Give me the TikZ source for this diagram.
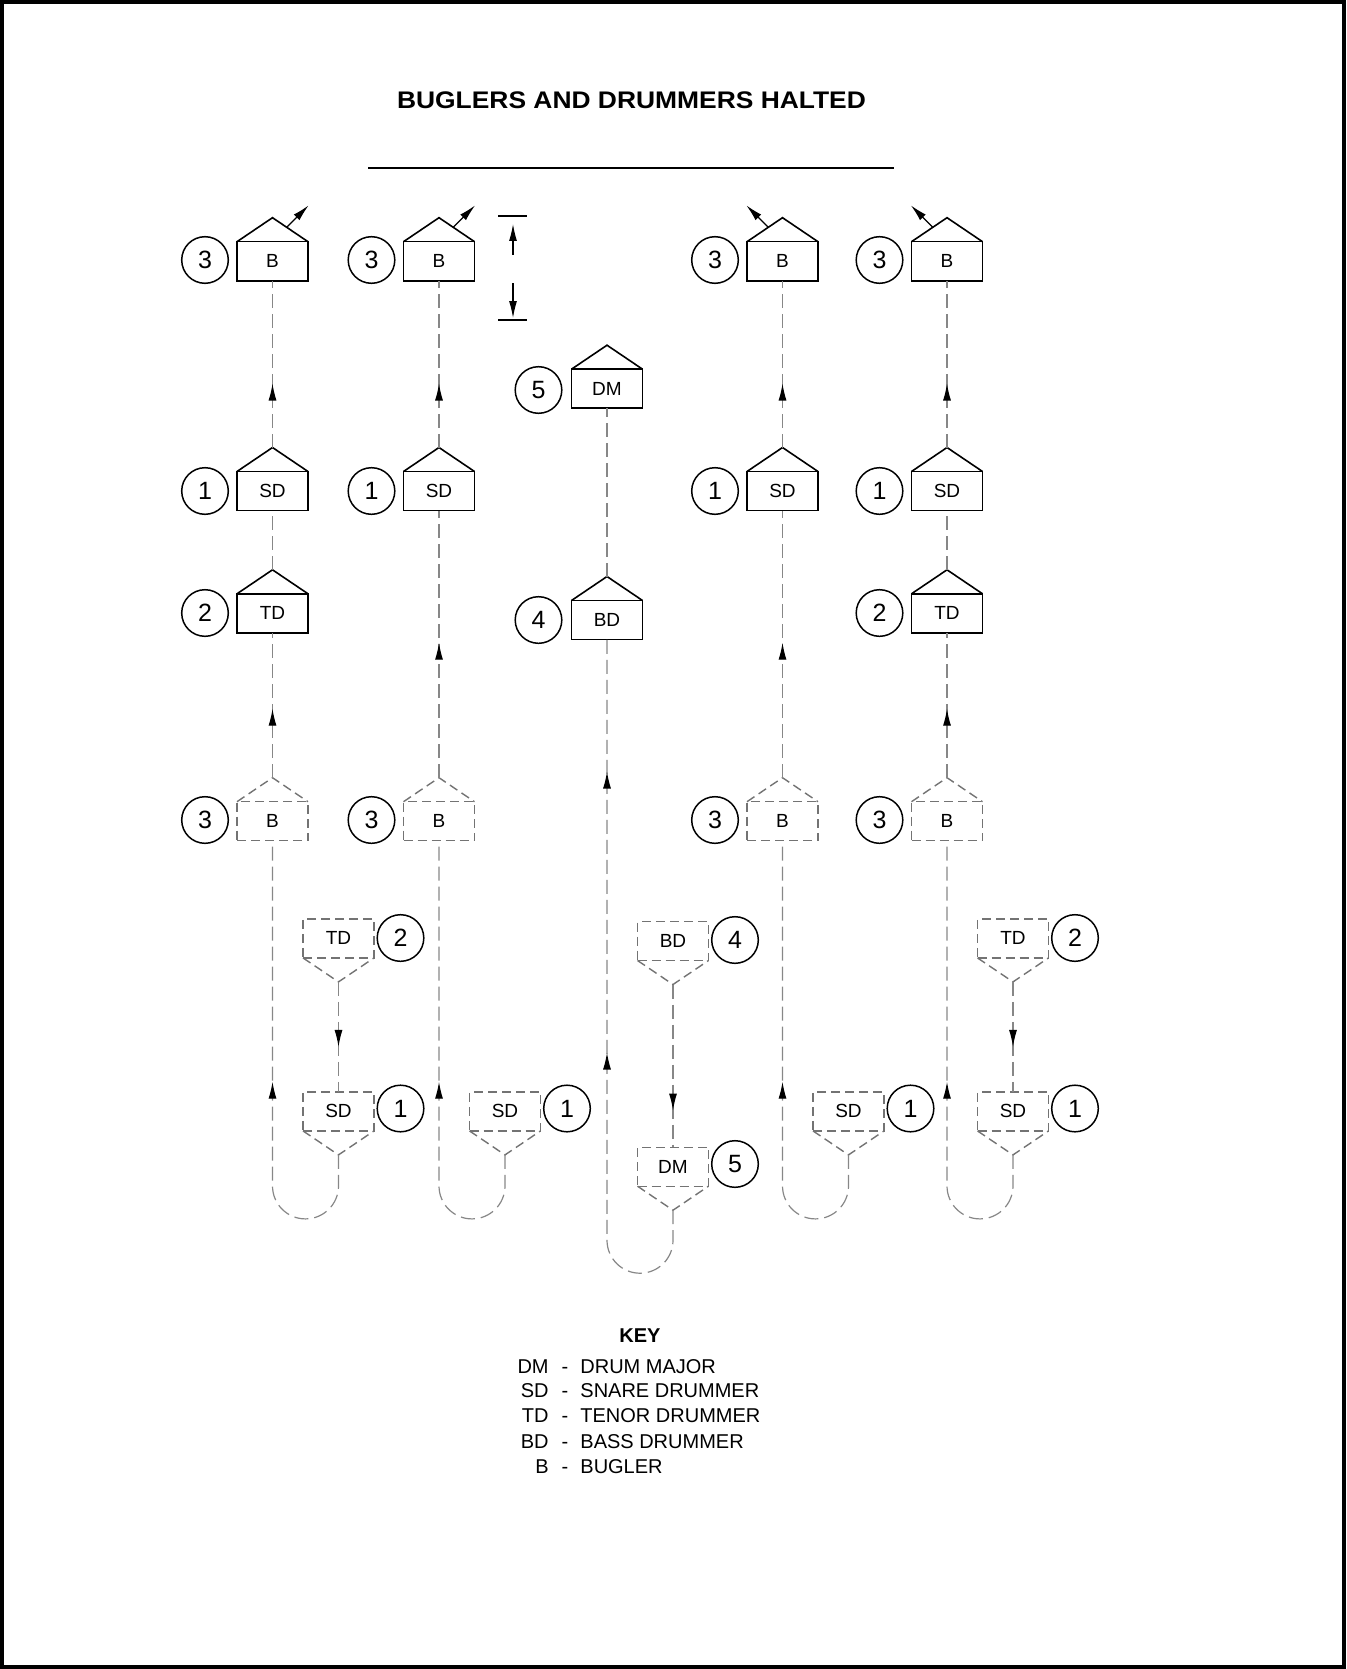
\documentclass[tikz,border=0pt]{standalone}
\usepackage{fontspec}
\setmainfont{Liberation Sans}
\usetikzlibrary{arrows.meta,decorations.markings,calc}
\definecolor{conngray}{RGB}{135,135,135}
\definecolor{boxgray}{RGB}{115,115,115}
\newcommand\hhouse[4]{%
  \node[hbox] (#1) at (#2,#3) {#4};
  \path (#1.north) ++(0,-24) coordinate (#1-apex);
  \draw[hline] (#1.north west) -- (#1-apex) -- (#1.north east);}
\newcommand\dhouse[4]{%
  \node[dbox] (#1) at (#2,#3) {#4};
  \path (#1.north) ++(0,-24) coordinate (#1-apex);
  \draw[dline] (#1.north west) -- (#1-apex) -- (#1.north east);}
\newcommand\dvhouse[4]{%
  \node[dbox] (#1) at (#2,#3) {#4};
  \path (#1.south) ++(0,24) coordinate (#1-tip);
  \draw[dline] (#1.south west) -- (#1-tip) -- (#1.south east);}
\begin{document}
\begin{tikzpicture}[x=0.5pt,y=-0.5pt,
  hbox/.style={draw=black,line width=0.8pt,minimum width=35.5pt,minimum height=19.5pt,inner sep=0pt,outer sep=0pt,font=\fontsize{9.5}{11}\selectfont},
  hline/.style={draw=black,line width=0.8pt,line join=miter},
  dbox/.style={draw=boxgray,line width=0.7pt,dash pattern=on 4.5pt off 2.5pt,minimum width=35.5pt,minimum height=19.5pt,inner sep=0pt,outer sep=0pt,font=\fontsize{9.5}{11}\selectfont},
  dline/.style={draw=boxgray,line width=0.7pt,dash pattern=on 4.5pt off 2.5pt},
  numc/.style={circle,draw=black,line width=0.75pt,minimum size=23.3pt,inner sep=0pt,font=\fontsize{12.5}{14}\selectfont},
  conn/.style={draw=conngray,line width=0.6pt,dash pattern=on 7pt off 3pt},
  arrowat/.style={postaction={decorate,decoration={markings,mark=at position #1 with {\arrow{Latex[length=8.5pt,width=4pt,color=black]}}}}},
  ptr/.style={draw=black,line width=0.6pt,-{Latex[length=8.5pt,width=4pt]}},
  keyf/.style={font=\fontsize{10}{12}\selectfont,inner sep=0pt}]
\useasboundingbox (0,0) rectangle (1346,1669);
\draw[line width=2pt] (2,2) rectangle (1344,1667);
% title
\node[font=\bfseries\fontsize{12}{14}\selectfont,anchor=base,xscale=1.1,inner sep=0pt] (title) at (631.5,108.5) {BUGLERS AND DRUMMERS HALTED};
\draw[line width=1pt] (368,168) -- (894,168);
% ---------- top row buglers
\hhouse{B1}{272.5}{261.2}{B}
\hhouse{B2}{439}{261.2}{B}
\hhouse{B4}{782.5}{261.2}{B}
\hhouse{B5}{947}{261.2}{B}
\node[numc] (nB1) at (205,260) {3};
\node[numc] (nB2) at (371.5,260) {3};
\node[numc] (nB4) at (715,260) {3};
\node[numc] (nB5) at (879.5,260) {3};
\draw[ptr] ($(B1-apex)!0.4!(B1.north east)$) -- ++(22,-22);
\draw[ptr] ($(B2-apex)!0.4!(B2.north east)$) -- ++(22,-22);
\draw[ptr] ($(B4-apex)!0.4!(B4.north west)$) -- ++(-22,-22);
\draw[ptr] ($(B5-apex)!0.4!(B5.north west)$) -- ++(-22,-22);
% dimension marker
\draw[line width=0.6pt] (498,216) -- (527,216);
\draw[line width=0.6pt] (498,320) -- (527,320);
\draw[ptr] (513,255) -- (513,224);
\draw[ptr] (513,283) -- (513,318);
% ---------- center column
\hhouse{DM3}{607}{388.7}{DM}
\node[numc] (nDM3) at (538.5,390) {5};
\hhouse{BD3}{607}{620}{BD}
\node[numc] (nBD3) at (538.5,620) {4};
% ---------- snare row
\hhouse{SD1}{272.5}{491}{SD}
\hhouse{SD2}{439}{491}{SD}
\hhouse{SD4}{782.5}{491}{SD}
\hhouse{SD5}{947}{491}{SD}
\node[numc] (nSD1) at (205,491) {1};
\node[numc] (nSD2) at (371.5,491) {1};
\node[numc] (nSD4) at (715,491) {1};
\node[numc] (nSD5) at (879.5,491) {1};
% ---------- tenor row
\hhouse{TD1}{272.5}{613.3}{TD}
\hhouse{TD5}{947}{613.3}{TD}
\node[numc] (nTD1) at (205,613) {2};
\node[numc] (nTD5) at (879.5,613) {2};
% ---------- dashed buglers
\dhouse{dB1}{272.5}{821.2}{B}
\dhouse{dB2}{439}{821.2}{B}
\dhouse{dB4}{782.5}{821.2}{B}
\dhouse{dB5}{947}{821.2}{B}
\node[numc] (ndB1) at (205,820) {3};
\node[numc] (ndB2) at (371.5,820) {3};
\node[numc] (ndB4) at (715,820) {3};
\node[numc] (ndB5) at (879.5,820) {3};
% ---------- dashed drummers
\dvhouse{dTD1}{338.5}{938.4}{TD}
\dvhouse{dTD5}{1013}{938.4}{TD}
\node[numc] (ndTD1) at (400.5,938) {2};
\node[numc] (ndTD5) at (1075,938) {2};
\dvhouse{dBD3}{673}{941}{BD}
\node[numc] (ndBD3) at (735,940) {4};
\dvhouse{dSD1}{338.5}{1111.4}{SD}
\dvhouse{dSD2}{505}{1111.4}{SD}
\dvhouse{dSD4}{848.5}{1111.4}{SD}
\dvhouse{dSD5}{1013}{1111.4}{SD}
\node[numc] (ndSD1) at (400.5,1108.5) {1};
\node[numc] (ndSD2) at (567,1108.5) {1};
\node[numc] (ndSD4) at (910.5,1108.5) {1};
\node[numc] (ndSD5) at (1075,1108.5) {1};
\dvhouse{dDM3}{673}{1166.7}{DM}
\node[numc] (ndDM3) at (735,1164) {5};
% ---------- connectors column 1
\draw[conn,arrowat=32pt] (SD1-apex) -- (B1.south);
\draw[conn] (TD1-apex) -- (SD1.south);
\draw[conn,arrowat=34.5pt] (dB1-apex) -- (TD1.south);
\draw[conn,arrowat=-120.5pt] (dSD1-tip) -- ++(0,31) arc[start angle=0,end angle=-180,radius=16.5pt] -- (dB1.south);
\draw[conn,arrowat=32.5pt] (dTD1-tip) -- (dSD1.north);
% column 2
\draw[conn,arrowat=32pt] (SD2-apex) -- (B2.south);
\draw[conn,arrowat=67.5pt] (dB2-apex) -- (SD2.south);
\draw[conn,arrowat=-120.5pt] (dSD2-tip) -- ++(0,31) arc[start angle=0,end angle=-180,radius=16.5pt] -- (dB2.south);
% center column
\draw[conn] (BD3-apex) -- (DM3.south);
\draw[conn,arrowat=-66pt,arrowat=-206.5pt] (dDM3-tip) -- ++(0,30) arc[start angle=0,end angle=-180,radius=16.5pt] -- (BD3.south);
\draw[conn,arrowat=63pt] (dBD3-tip) -- (dDM3.north);
% column 4
\draw[conn,arrowat=32pt] (SD4-apex) -- (B4.south);
\draw[conn,arrowat=67.5pt] (dB4-apex) -- (SD4.south);
\draw[conn,arrowat=-120.5pt] (dSD4-tip) -- ++(0,31) arc[start angle=0,end angle=-180,radius=16.5pt] -- (dB4.south);
% column 5
\draw[conn,arrowat=32pt] (SD5-apex) -- (B5.south);
\draw[conn] (TD5-apex) -- (SD5.south);
\draw[conn,arrowat=34.5pt] (dB5-apex) -- (TD5.south);
\draw[conn,arrowat=-120.5pt] (dSD5-tip) -- ++(0,31) arc[start angle=0,end angle=-180,radius=16.5pt] -- (dB5.south);
\draw[conn,arrowat=32.5pt] (dTD5-tip) -- (dSD5.north);
% ---------- key
\node[keyf,font=\bfseries\fontsize{10}{12}\selectfont,anchor=base] (key) at (640,1342) {KEY};
\foreach \ab/\tx/\yy [count=\i] in {DM/DRUM MAJOR/1373.7,SD/SNARE DRUMMER/1397.7,TD/TENOR DRUMMER/1422,BD/BASS DRUMMER/1448.7,B/BUGLER/1473.7}{
  \node[keyf,anchor=base east] (ka\i) at (549,\yy) {\ab};
  \node[keyf,anchor=base] (kd\i) at (565,\yy) {-};
  \node[keyf,anchor=base west] (kt\i) at (580,\yy) {\tx};
}
\end{tikzpicture}
\end{document}
